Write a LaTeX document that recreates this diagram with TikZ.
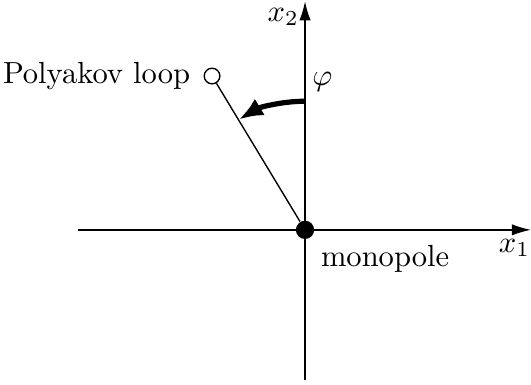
\documentclass[tikz,border=0pt]{standalone}
\usepackage{amsmath,amssymb}
\usepackage{tikz}
\usetikzlibrary{arrows.meta,positioning}

\begin{document}
\begin{tikzpicture}[
  axis/.style={-{Latex[length=2.2mm,width=1.3mm]},line width=.45pt},
  dot/.style={circle,fill=black,inner sep=0pt,minimum size=2.1mm},
  ring/.style={circle,draw,line width=.45pt,inner sep=0pt,minimum size=1.8mm},
  turn/.style={-{Latex[length=2.8mm,width=2.2mm]},line width=1.7pt}
]
\useasboundingbox (-3.51,-1.78) rectangle (2.60,2.645);
\coordinate (xl) at (-2.61,0);
\coordinate (xr) at (2.60,0);
\coordinate (yb) at (0,-1.73);
\coordinate (yt) at (0,2.63);
\draw[axis] (xl) -- (xr);
\draw[axis] (yb) -- (yt);
\node[dot] (mono) at (0,0) {};
\node[ring] (loop) at (-1.07,1.77) {};
\draw[line width=.45pt] (mono) -- (loop);
\node[left=0.3mm of loop] (ltxt) {Polyakov loop};
\node[below right=0.5mm and 0.6mm of mono.center] (mtxt) {monopole};
\node (xa) at (2.41,-0.21) {$x_1$};
\node (xb) at (-0.25,2.45) {$x_2$};
\coordinate (ast) at (90:1.48);
\draw[turn] (ast) arc[start angle=90,end angle=121,radius=1.48];
\node (phi) at (0.2,1.7) {$\varphi$};
\end{tikzpicture}
\end{document}
